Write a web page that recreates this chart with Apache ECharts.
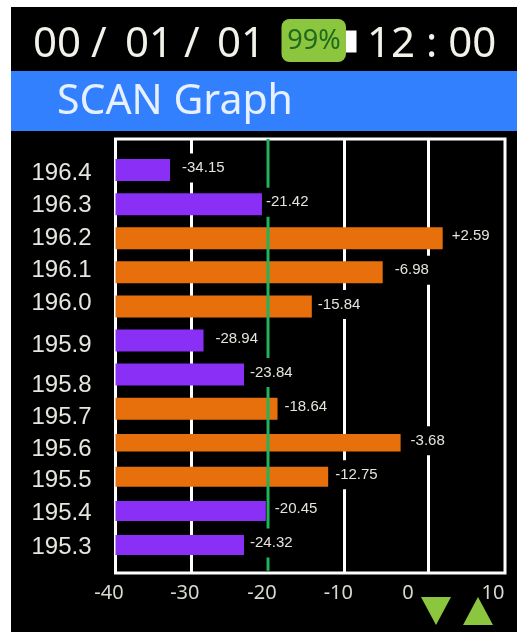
<!DOCTYPE html>
<html><head><meta charset="utf-8">
<style>html,body{margin:0;padding:0;background:#fff}#c{width:517px;height:632px}</style>
<script src="https://cdn.jsdelivr.net/npm/echarts@6/dist/echarts.min.js"></script>
</head><body><div id="c"></div>
<script>
// Data
const categories = ['196.4','196.3','196.2','196.1','196.0','195.9','195.8','195.7','195.6','195.5','195.4','195.3'];
const printedLabels = ['-34.15','-21.42','+2.59','-6.98','-15.84','-28.94','-23.84','-18.64','-3.68','-12.75','-20.45','-24.32'];
// bar lengths as read against the x axis
const barValues = [-33.0,-21.2,2.0,-5.7,-14.8,-28.7,-23.5,-19.2,-3.4,-12.7,-20.7,-23.5];
const purpleBars = ['196.4','196.3','195.9','195.8','195.4','195.3'];
const thresholdValue = -20.42;
const tickLabels = ['-40','-30','-20','-10','0','10'];

// Layout (the reference's axis is slightly uneven)
const gridLineAt = [-30.24,-10.67,0.11];
const tickLabelAt = [-40,-31.1,-21.2,-11.4,-2.45,8.46];
const yLabelNudge = [3,1,0,-2,-3,5,11,9,7,4,2,2];
const labelGap = [12,4,9,12,6,12,6,7,10,7,9,6];
const barHeights = [22,22,22,22,22,22,22,22,17.5,20,20,20];

const PURPLE='#8a2ff5', ORANGE='#e8700c', GREEN='#1fb45c', LIME='#8cc63f', FONT='"Noto Sans","Open Sans",sans-serif';
const XMIN=-40, XMAX=10;

const rich={};
yLabelNudge.forEach((n,i)=>{
  rich['n'+i]={fontFamily:'"Liberation Sans"',fontSize:24,color:'#e6e6e0',
    padding:n>=0?[2*n,0,0,0]:[0,0,-2*n,0]};
});

const dateParts=[['00',33],['/',91],['01',125],['/',184],['01',217]];

const chart=echarts.init(document.getElementById('c'),null,{renderer:'canvas'});
chart.setOption({
  animation:false,
  backgroundColor:'#fff',
  grid:[
    {left:115.5,width:389.5,top:153,height:409},
    {left:115.5,width:389.5,top:139,height:434,show:true,borderColor:'#fff',borderWidth:3,backgroundColor:'transparent'}
  ],
  xAxis:[
    {gridIndex:0,type:'value',min:XMIN,max:XMAX,show:false},
    {gridIndex:1,type:'value',min:XMIN,max:XMAX,
      axisLine:{show:false},
      axisTick:{show:false,customValues:gridLineAt},
      splitLine:{show:true,lineStyle:{color:'#fff',width:3}},
      axisLabel:{color:'#d8d8d0',fontFamily:FONT,fontSize:20,margin:10,
        customValues:tickLabelAt,showMinLabel:true,showMaxLabel:true,hideOverlap:false,
        rich:{first:{color:'#d8d8d0',fontFamily:FONT,fontSize:20,padding:[0,13,0,0]}},
        formatter:v=>{const t=tickLabels[tickLabelAt.indexOf(v)];return v===XMIN?`{first|${t}}`:t;}}}
  ],
  yAxis:[
    {gridIndex:0,type:'category',inverse:true,data:categories,
      axisLine:{show:false},axisTick:{show:false},splitLine:{show:false},
      axisLabel:{margin:24,interval:0,rich,formatter:(v,i)=>`{n${i}|${v}}`}},
    {gridIndex:1,type:'value',min:0,max:1,show:false}
  ],
  series:[
    {name:'Level',type:'custom',xAxisIndex:0,yAxisIndex:0,z:2,clip:false,
      encode:{x:0,y:1},
      data:barValues.map((v,i)=>[v,i,barHeights[i],purpleBars.includes(categories[i])?1:0]),
      renderItem:(p,api)=>{
        const end=api.coord([api.value(0),api.value(1)]);
        const base=api.coord([XMIN,api.value(1)]);
        const h=api.value(2);
        return {type:'rect',shape:{x:base[0],y:end[1]-h/2,width:end[0]-base[0],height:h},
          style:{fill:api.value(3)?PURPLE:ORANGE}};
      }},
    {name:'Threshold',type:'line',xAxisIndex:1,yAxisIndex:1,z:5,symbol:'none',
      lineStyle:{color:GREEN,width:3},data:[[thresholdValue,0.005],[thresholdValue,1]]},
    {name:'Labels',type:'scatter',xAxisIndex:0,yAxisIndex:0,z:6,symbolSize:0,itemStyle:{opacity:1},
      data:barValues.map((v,i)=>({value:[v,i],label:{show:true,position:'right',distance:labelGap[i]-3,offset:[0,-2],
        formatter:printedLabels[i],color:'#e4e4dc',fontFamily:'"Liberation Sans"',fontSize:15,
        backgroundColor:'#000',padding:[7,3]}}))}
  ],
  graphic:[
    {type:'rect',z:-100,silent:true,shape:{x:11,y:7,width:506,height:625},style:{fill:'#000'}},
    {type:'rect',z:-99,silent:true,shape:{x:11,y:71,width:506,height:60},style:{fill:'#3380ff'}},
    ...dateParts.map(([t,x])=>({type:'text',z:10,x,y:45,style:{text:t,fill:'#f2f2ea',fontFamily:FONT,fontSize:42,verticalAlign:'middle'}})),
    {type:'rect',z:10,shape:{x:346,y:30.5,width:10.5,height:22},style:{fill:'#fff'}},
    {type:'rect',z:10,shape:{x:281.5,y:19,width:64.5,height:43,r:8},style:{fill:LIME}},
    {type:'text',z:11,x:314,y:41,style:{text:'99%',fill:'#1f6a1f',fontFamily:FONT,fontSize:27,align:'center',verticalAlign:'middle'}},
    {type:'text',z:10,x:367,y:45,style:{text:'12 : 00',fill:'#f2f2ea',fontFamily:FONT,fontSize:42,verticalAlign:'middle'}},
    {type:'text',z:10,x:57,y:102,style:{text:'SCAN Graph',fill:'#e6f0ff',fontFamily:FONT,fontSize:41,verticalAlign:'middle'}},
    {type:'polygon',z:10,shape:{points:[[421,597],[451,597],[436,625]]},style:{fill:LIME}},
    {type:'polygon',z:10,shape:{points:[[463,625],[493,625],[478,597]]},style:{fill:LIME}}
  ]
});
</script></body></html>
